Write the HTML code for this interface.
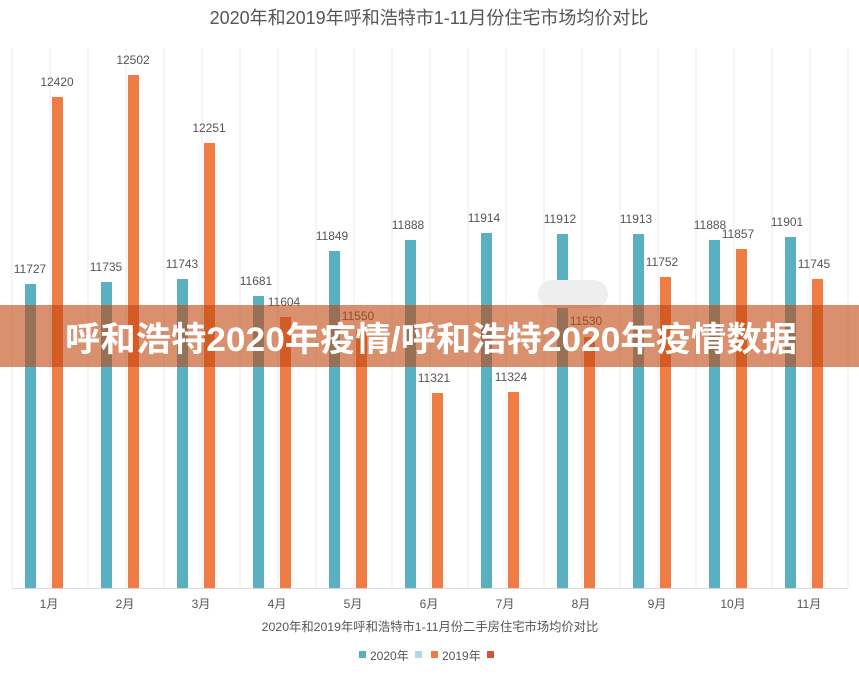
<!DOCTYPE html>
<html><head><meta charset="utf-8"><style>
body{margin:0;background:#fff;width:859px;height:672px;overflow:hidden}
svg text{font-family:"Liberation Sans","Noto Sans CJK SC",sans-serif}
</style></head><body>
<svg width="859" height="672" viewBox="0 0 859 672" xmlns="http://www.w3.org/2000/svg">
<rect width="859" height="672" fill="#fff"/>
<text x="429" y="24" text-anchor="middle" font-size="18" fill="#555">2020年和2019年呼和浩特市1-11月份住宅市场均价对比</text>
<g stroke="#ebebeb" stroke-width="1">
<line x1="12" y1="48" x2="12" y2="588"/><line x1="50" y1="48" x2="50" y2="588"/><line x1="88" y1="48" x2="88" y2="588"/><line x1="126" y1="48" x2="126" y2="588"/><line x1="164" y1="48" x2="164" y2="588"/><line x1="202" y1="48" x2="202" y2="588"/><line x1="240" y1="48" x2="240" y2="588"/><line x1="278" y1="48" x2="278" y2="588"/><line x1="316" y1="48" x2="316" y2="588"/><line x1="354" y1="48" x2="354" y2="588"/><line x1="392" y1="48" x2="392" y2="588"/><line x1="430" y1="48" x2="430" y2="588"/><line x1="468" y1="48" x2="468" y2="588"/><line x1="506" y1="48" x2="506" y2="588"/><line x1="544" y1="48" x2="544" y2="588"/><line x1="582" y1="48" x2="582" y2="588"/><line x1="620" y1="48" x2="620" y2="588"/><line x1="658" y1="48" x2="658" y2="588"/><line x1="696" y1="48" x2="696" y2="588"/><line x1="734" y1="48" x2="734" y2="588"/><line x1="772" y1="48" x2="772" y2="588"/><line x1="810" y1="48" x2="810" y2="588"/><line x1="848" y1="48" x2="848" y2="588"/>
</g>
<line x1="12" y1="588.5" x2="848" y2="588.5" stroke="#d9d9d9"/>
<g fill="#5ab0c0">
<rect x="25" y="284" width="11" height="304"/><rect x="101" y="282" width="11" height="306"/><rect x="177" y="279" width="11" height="309"/><rect x="253" y="296" width="11" height="292"/><rect x="329" y="251" width="11" height="337"/><rect x="405" y="240" width="11" height="348"/><rect x="481" y="233" width="11" height="355"/><rect x="557" y="234" width="11" height="354"/><rect x="633" y="234" width="11" height="354"/><rect x="709" y="240" width="11" height="348"/><rect x="785" y="237" width="11" height="351"/>
</g>
<g fill="#ef7b45">
<rect x="52" y="97" width="11" height="491"/><rect x="128" y="75" width="11" height="513"/><rect x="204" y="143" width="11" height="445"/><rect x="280" y="317" width="11" height="271"/><rect x="356" y="331" width="11" height="257"/><rect x="432" y="393" width="11" height="195"/><rect x="508" y="392" width="11" height="196"/><rect x="584" y="337" width="11" height="251"/><rect x="660" y="277" width="11" height="311"/><rect x="736" y="249" width="11" height="339"/><rect x="812" y="279" width="11" height="309"/>
</g>
<g font-size="12" fill="#555" text-anchor="middle">
<text x="30" y="273">11727</text><text x="106" y="271">11735</text><text x="182" y="268">11743</text><text x="256" y="285">11681</text><text x="332" y="240">11849</text><text x="408" y="229">11888</text><text x="484" y="222">11914</text><text x="560" y="223">11912</text><text x="636" y="223">11913</text><text x="710" y="229">11888</text><text x="787" y="226">11901</text>
<text x="57" y="86">12420</text><text x="133" y="64">12502</text><text x="209" y="132">12251</text><text x="284" y="306">11604</text><text x="358" y="320">11550</text><text x="434" y="382">11321</text><text x="511" y="381">11324</text><text x="586" y="325">11530</text><text x="662" y="266">11752</text><text x="738" y="238">11857</text><text x="814" y="268">11745</text>
</g>
<g font-size="12" fill="#555" text-anchor="middle">
<text x="49" y="608">1月</text><text x="125" y="608">2月</text><text x="201" y="608">3月</text><text x="277" y="608">4月</text><text x="353" y="608">5月</text><text x="429" y="608">6月</text><text x="505" y="608">7月</text><text x="581" y="608">8月</text><text x="657" y="608">9月</text><text x="733" y="608">10月</text><text x="809" y="608">11月</text>
</g>
<text x="430" y="631" text-anchor="middle" font-size="12.3" fill="#555">2020年和2019年呼和浩特市1-11月份二手房住宅市场均价对比</text>
<rect x="359" y="651" width="7" height="7" fill="#5ab0c0"/>
<text x="370" y="660" font-size="12" fill="#555">2020年</text>
<rect x="415" y="651" width="7" height="7" fill="#a8dde8"/>
<rect x="431" y="651" width="7" height="7" fill="#ef7b45"/>
<text x="442" y="660" font-size="12" fill="#555">2019年</text>
<rect x="487" y="651" width="7" height="7" fill="#d9503a"/>
<rect x="538" y="280" width="70" height="28" rx="14" fill="#eeeeee"/>
<rect x="0" y="305" width="859" height="62" fill="rgba(192,70,15,0.6)"/>
<text x="431" y="351" text-anchor="middle" font-size="34" font-weight="bold" fill="#fff" textLength="732" lengthAdjust="spacingAndGlyphs">呼和浩特2020年疫情/呼和浩特2020年疫情数据</text>
</svg>
</body></html>
